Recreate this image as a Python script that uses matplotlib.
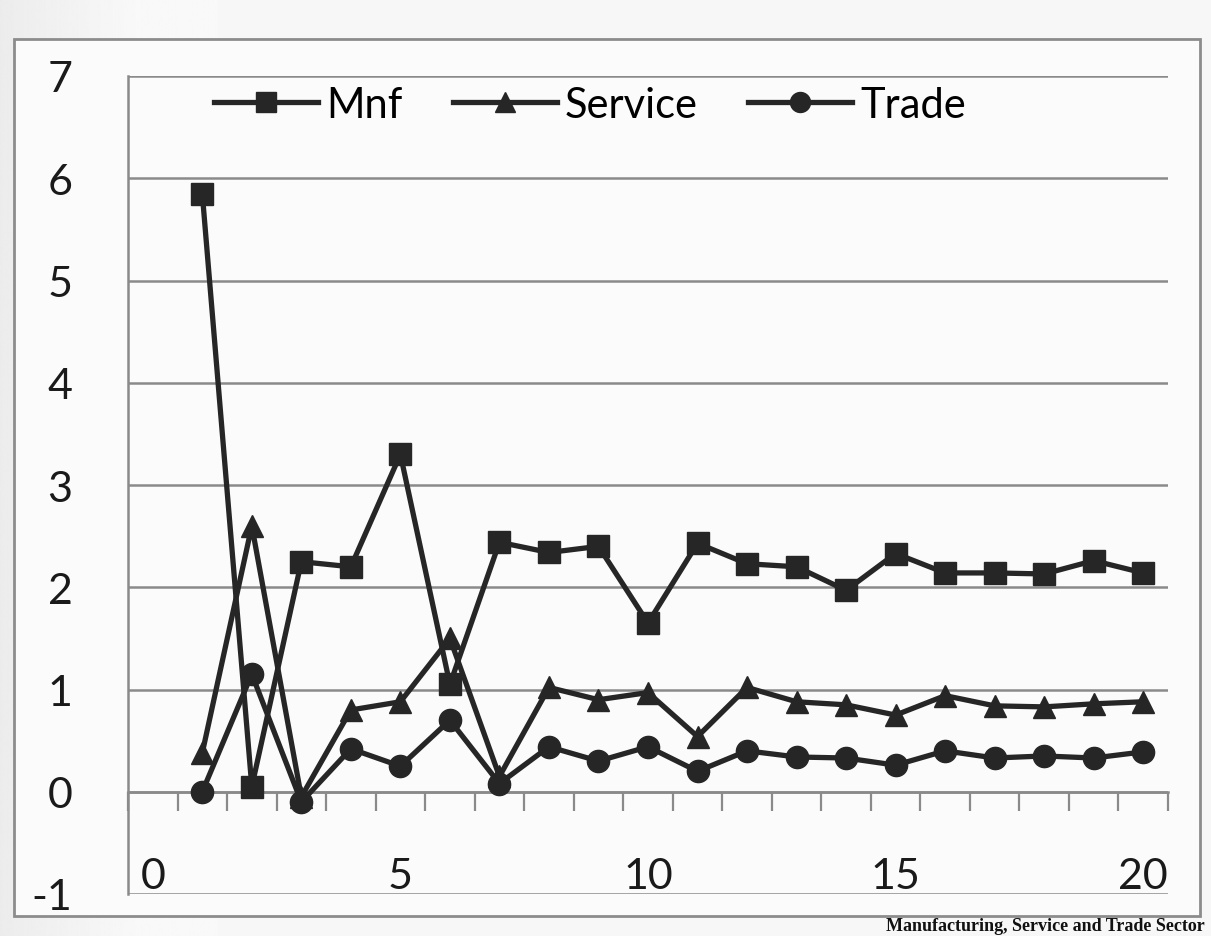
import numpy as np
import matplotlib
matplotlib.use("Agg")
import matplotlib.pyplot as plt
from matplotlib.patches import Rectangle

# ---- data -------------------------------------------------------------
periods = list(range(1, 21))
mnf = [5.85, 0.05, 2.25, 2.2, 3.3, 1.05, 2.44, 2.34, 2.4, 1.65,
       2.43, 2.23, 2.2, 1.97, 2.33, 2.14, 2.14, 2.13, 2.26, 2.14]
service = [0.38, 2.6, -0.05, 0.8, 0.88, 1.5, 0.15, 1.02, 0.9, 0.97,
           0.54, 1.02, 0.88, 0.85, 0.75, 0.94, 0.84, 0.83, 0.86, 0.88]
trade = [0.0, 1.15, -0.1, 0.42, 0.25, 0.7, 0.08, 0.44, 0.3, 0.44,
         0.2, 0.4, 0.34, 0.33, 0.26, 0.4, 0.33, 0.35, 0.33, 0.39]
series_names = ["Mnf", "Service", "Trade"]
x_tick_labels = [0, 5, 10, 15, 20]
y_tick_labels = list(range(-1, 8))
caption = "Manufacturing, Service and Trade Sector"

W, H = 1211, 937
plt.rcParams["font.family"] = ["Lato", "DejaVu Sans"]
plt.rcParams["axes.unicode_minus"] = False

fig = plt.figure(figsize=(W / 100, H / 100), dpi=100)
fig.patch.set_facecolor("#f4f4f4")

# page background: slight shading toward the left edge
bg = fig.add_axes([0, 0, 1, 1], zorder=-10)
bg.set_axis_off()
grad = np.clip(np.linspace(0.80, 1.0, 256) ** 0.35, 0, 1)
grad = np.minimum(grad, 0.975)
bg.imshow(np.tile(grad, (2, 1)), cmap="gray", vmin=0, vmax=1,
          extent=[0, 0.18, 0, 1], aspect="auto")
bg.add_patch(Rectangle((0.18, 0), 0.82, 1, color="#f7f7f7", zorder=0))
bg.set_xlim(0, 1)
bg.set_ylim(0, 1)
# chart frame
bg.add_patch(Rectangle((14 / W, 1 - 917 / H), (1200 - 14) / W, (917 - 40) / H,
                       fill=True, facecolor="#fbfbfb", edgecolor="#8c8c8c",
                       lw=2.0, zorder=1))

# ---- plot area ----------------------------------------------------------
left, right, top, bottom = 128, 1168, 77, 895
ax = fig.add_axes([left / W, 1 - bottom / H, (right - left) / W, (bottom - top) / H])
ax.set_facecolor("none")
ax.set_xlim(-0.5, 20.5)
ax.set_ylim(-1, 7)

grid_c = "#8a8a8a"
ax.set_yticks(y_tick_labels)
ax.yaxis.grid(True, color=grid_c, lw=1.8)
ax.set_axisbelow(True)
ax.tick_params(axis="y", length=0, pad=40, labelsize=31, labelcolor="#1a1a1a")

for s in ("top", "right"):
    ax.spines[s].set_visible(False)
ax.spines["left"].set_color(grid_c)
ax.spines["left"].set_linewidth(1.8)
ax.spines["bottom"].set_position(("data", 0))
ax.spines["bottom"].set_color(grid_c)
ax.spines["bottom"].set_linewidth(1.8)

ax.set_xticks(x_tick_labels)
ax.set_xticklabels([str(v) for v in x_tick_labels])
ax.set_xticks(np.arange(-0.5, 21, 1), minor=True)
ax.tick_params(axis="x", which="major", length=0, pad=47, labelsize=31,
               labelcolor="#1a1a1a")
ax.tick_params(axis="x", which="minor", length=14, width=1.6, color=grid_c,
               direction="out")

line_c = "#262626"
common = dict(color=line_c, lw=3.8, markerfacecolor=line_c,
              markeredgecolor=line_c, clip_on=False)
ax.plot(periods, mnf, marker="s", ms=16.5, label=series_names[0], zorder=5, **common)
ax.plot(periods, service, marker="^", ms=16.5, label=series_names[1], zorder=4, **common)
ax.plot(periods, trade, marker="o", ms=16, label=series_names[2], zorder=3, **common)

fig.legend(loc="center", bbox_to_anchor=(590 / W, 1 - 106 / H), ncol=3,
           frameon=False, fontsize=30, handlelength=2.5, handletextpad=0.2,
           columnspacing=1.2, markerscale=0.9)

# caption line below the chart frame
fig.text(1205 / W, 2 / H, caption, ha="right", va="bottom",
         family=["Liberation Serif", "DejaVu Serif"], weight="bold",
         fontsize=13, color="#111111")

fig.savefig("out.png", dpi=100, facecolor=fig.get_facecolor())
